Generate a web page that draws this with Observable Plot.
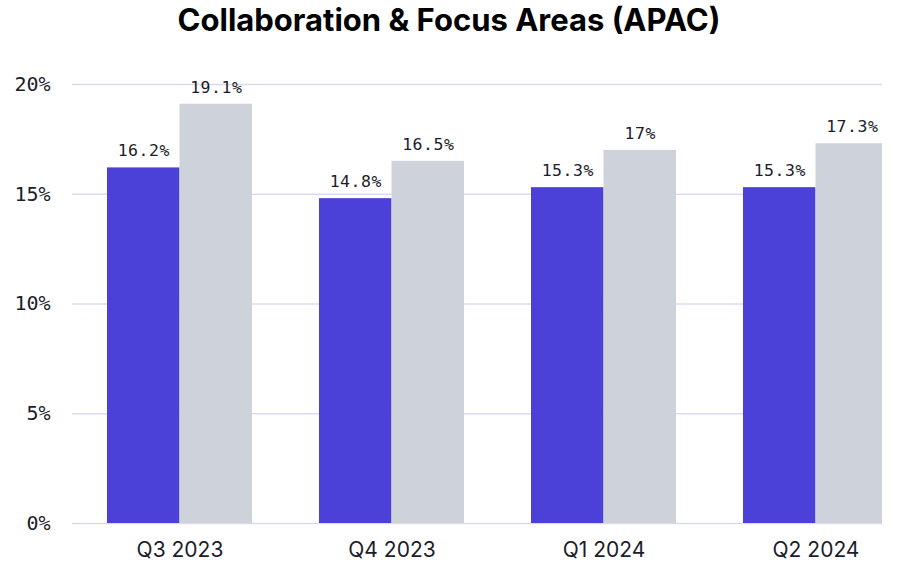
<!DOCTYPE html>
<html>
<head>
<meta charset="utf-8">
<script src="https://cdn.jsdelivr.net/npm/d3@7"></script>
<script src="https://cdn.jsdelivr.net/npm/@observablehq/plot@0.6"></script>
<style>
  html, body { margin: 0; padding: 0; background: #fff; }
  body { width: 898px; height: 562px; overflow: hidden; }
  #title { height: 60px; margin: 0; font-family: Inter, "Noto Sans", sans-serif; font-weight: 700; font-size: 31px; line-height: 40px; text-align: center; color: #000; }
  #chart svg { overflow: hidden; display: block; }
  .vlabel text { letter-spacing: 0.5px; }
</style>
</head>
<body>
<div id="title">Collaboration &amp; Focus Areas (APAC)</div>
<div id="chart"></div>
<script>
const quarters = ["Q3 2023", "Q4 2023", "Q1 2024", "Q2 2024"];
const seriesNames = ["APAC", "Global"];
const apacValues = [16.2, 14.8, 15.3, 15.3];
const globalValues = [19.1, 16.5, 17, 17.3];
const yTicks = [0, 5, 10, 15, 20];

const data = [];
quarters.forEach((q, i) => {
  data.push({quarter: q, series: seriesNames[0], value: apacValues[i]});
  data.push({quarter: q, series: seriesNames[1], value: globalValues[i]});
});
const apac = data.filter(d => d.series === seriesNames[0]);
const glob = data.filter(d => d.series === seriesNames[1]);

const half = 72.5;
const mono = "'DejaVu Sans Mono', 'Liberation Mono', monospace";

const chart = Plot.plot({
  width: 882,
  height: 502,
  marginLeft: 72,
  marginRight: -40,
  marginTop: 24,
  marginBottom: 39,
  style: {background: "#fff", color: "#1c1d2b", overflow: "hidden"},
  x: {domain: quarters, paddingInner: 0.317, paddingOuter: 0.16, label: null},
  y: {domain: [0, 20], label: null},
  marks: [
    Plot.ruleY(yTicks, {stroke: "#dcdaf2", strokeWidth: 1.5}),
    Plot.barY(apac, {x: "quarter", y: "value", fill: "#4b41d9", insetRight: half}),
    Plot.barY(glob, {x: "quarter", y: "value", fill: "#cdd2db", insetLeft: half}),
    Plot.text(apac, {x: "quarter", y: "value", text: d => `${d.value}%`, dx: -half / 2, dy: -17, fontFamily: mono, fontSize: 16.5, fill: "#1c1d2b", className: "vlabel"}),
    Plot.text(glob, {x: "quarter", y: "value", text: d => `${d.value}%`, dx: half / 2, dy: -17, fontFamily: mono, fontSize: 16.5, fill: "#1c1d2b", className: "vlabel"}),
    Plot.axisY({ticks: yTicks, tickFormat: d => `${d}%`, tickSize: 0, tickPadding: 22, fontFamily: mono, fontSize: 20, label: null}),
    Plot.axisX({tickSize: 0, tickPadding: 19, fontFamily: "Inter, 'Noto Sans', sans-serif", fontSize: 21, label: null})
  ]
});
document.getElementById("chart").appendChild(chart);
</script>
</body>
</html>
